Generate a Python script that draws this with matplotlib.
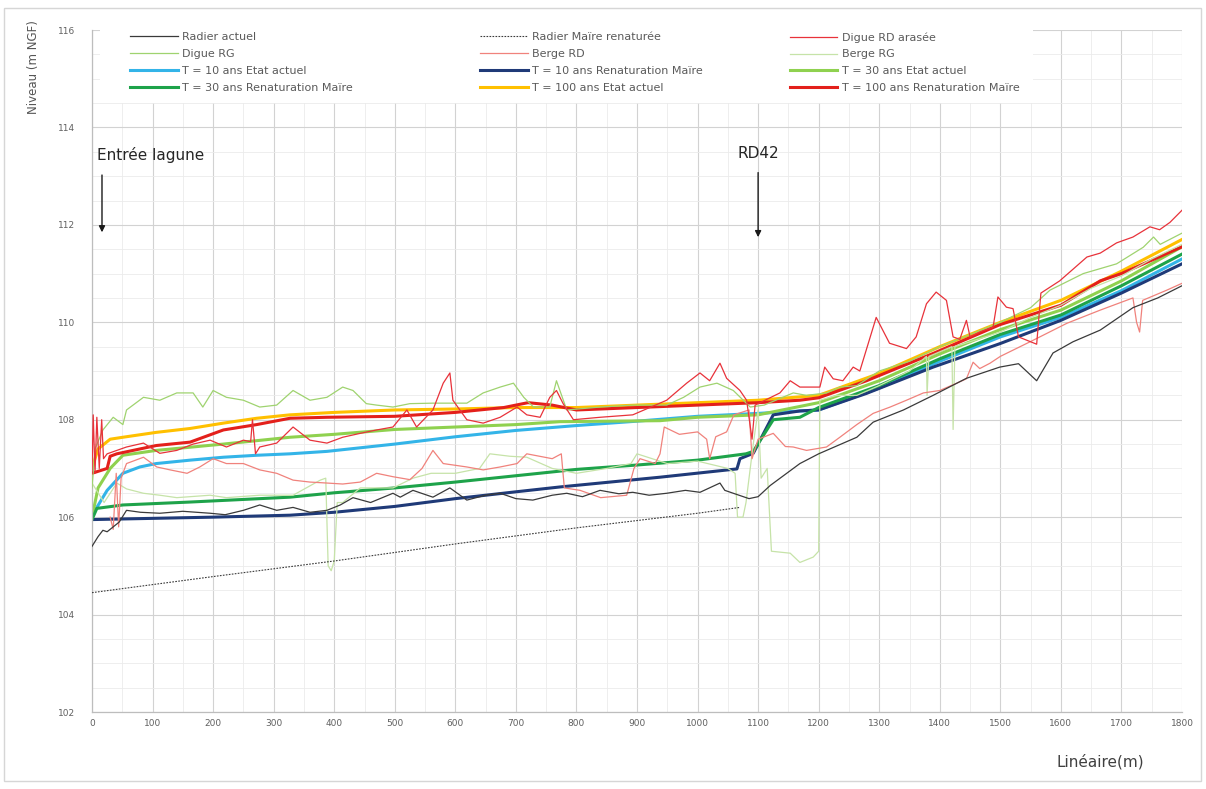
import matplotlib
matplotlib.use("Agg")
import matplotlib.pyplot as plt
from matplotlib.ticker import MultipleLocator
from matplotlib.patches import Rectangle
from matplotlib.legend import Legend

# ---------------- data ----------------
radier_actuel_x = [0, 10, 18, 25, 35, 45, 57, 80, 112, 150, 195, 220, 250, 277, 305, 332, 360, 388, 410, 431,
                   460, 497, 509, 530, 563, 591, 619, 650, 674, 700, 728, 760, 784, 810, 839, 870, 893, 920, 949, 980,
                   1004, 1037, 1045, 1059, 1085, 1100, 1120, 1169, 1200, 1263, 1290, 1340, 1389, 1444, 1499, 1530, 1560, 1587, 1620, 1665,
                   1719, 1760, 1800]
radier_actuel_y = [105.4, 105.6, 105.73, 105.7, 105.8, 105.9, 106.14, 106.1, 106.08, 106.12, 106.08, 106.05, 106.14, 106.25, 106.14, 106.2, 106.1, 106.14, 106.25, 106.4,
                   106.3, 106.49, 106.41, 106.55, 106.41, 106.6, 106.35, 106.45, 106.49, 106.38, 106.35, 106.45, 106.49, 106.42, 106.55, 106.48, 106.51, 106.45, 106.49, 106.55,
                   106.51, 106.7, 106.55, 106.49, 106.38, 106.42, 106.65, 107.1, 107.3, 107.64, 107.95, 108.2, 108.5, 108.85, 109.08, 109.15, 108.8, 109.37, 109.6, 109.84,
                   110.3, 110.5, 110.75]

radier_renat_x = [0, 200, 400, 600, 800, 1000, 1070]
radier_renat_y = [104.45, 104.78, 105.1, 105.45, 105.78, 106.08, 106.2]

digue_rd_x = [0, 2, 5, 8, 12, 16, 19, 25, 41, 57, 85, 112, 140, 167, 195, 222, 250, 262, 265, 270,
              277, 305, 332, 360, 388, 414, 443, 470, 497, 520, 536, 563, 580, 591, 596, 619, 646, 674, 702, 718,
              740, 756, 767, 778, 795, 839, 893, 949, 982, 1004, 1020, 1037, 1048, 1070, 1081, 1090, 1095, 1136, 1153, 1169,
              1202, 1210, 1224, 1240, 1257, 1268, 1295, 1317, 1345, 1361, 1378, 1394, 1411, 1422, 1433, 1444, 1450, 1466, 1488, 1496,
              1510, 1521, 1530, 1560, 1567, 1598, 1621, 1643, 1665, 1692, 1719, 1747, 1763, 1780, 1800]
digue_rd_y = [106.9, 108.1, 106.9, 108.05, 107.0, 108.0, 107.2, 107.3, 107.37, 107.44, 107.52, 107.31, 107.37, 107.5, 107.58, 107.44, 107.58, 107.55, 108.0, 107.3,
              107.44, 107.52, 107.85, 107.58, 107.52, 107.64, 107.72, 107.79, 107.85, 108.2, 107.85, 108.2, 108.75, 108.96, 108.4, 108.0, 107.93, 108.05, 108.26, 108.1,
              108.05, 108.46, 108.6, 108.33, 108.0, 108.05, 108.1, 108.4, 108.75, 108.96, 108.8, 109.16, 108.85, 108.6, 108.4, 107.6, 108.3, 108.55, 108.8, 108.67,
              108.67, 109.08, 108.84, 108.8, 109.08, 109.0, 110.1, 109.57, 109.46, 109.7, 110.38, 110.62, 110.45, 109.7, 109.65, 110.04, 109.7, 109.8, 109.9, 110.52,
              110.31, 110.28, 109.7, 109.55, 110.6, 110.85, 111.1, 111.34, 111.42, 111.63, 111.75, 111.96, 111.9, 112.05, 112.3]

digue_rg_x = [0, 5, 18, 35, 51, 57, 85, 112, 140, 167, 183, 200, 222, 250, 277, 305, 332, 360, 388, 414,
              431, 453, 470, 497, 525, 563, 619, 646, 674, 696, 713, 729, 756, 767, 784, 839, 893, 949, 977, 1004,
              1032, 1059, 1087, 1110, 1158, 1180, 1213, 1235, 1263, 1300, 1350, 1400, 1450, 1500, 1550, 1582, 1637, 1692, 1736, 1753,
              1764, 1800]
digue_rg_y = [106.6, 107.4, 107.79, 108.05, 107.9, 108.2, 108.46, 108.4, 108.55, 108.55, 108.26, 108.6, 108.46, 108.4, 108.26, 108.3, 108.6, 108.4, 108.46, 108.67,
              108.6, 108.33, 108.3, 108.26, 108.33, 108.34, 108.34, 108.55, 108.67, 108.75, 108.46, 108.26, 108.26, 108.8, 108.2, 108.26, 108.3, 108.3, 108.46, 108.67,
              108.75, 108.6, 108.26, 108.3, 108.55, 108.5, 108.55, 108.67, 108.7, 109.0, 109.2, 109.5, 109.75, 110.0, 110.3, 110.66, 111.0, 111.2, 111.54, 111.75,
              111.6, 111.83]

berge_rd_x = [30, 35, 40, 44, 48, 57, 85, 107, 129, 157, 178, 200, 222, 250, 277, 305, 332, 360, 388, 414,
              443, 470, 497, 525, 545, 563, 580, 619, 646, 674, 702, 718, 760, 775, 780, 806, 840, 883, 895, 905,
              930, 938, 945, 970, 1000, 1015, 1020, 1030, 1048, 1060, 1085, 1090, 1100, 1125, 1145, 1158, 1180, 1213, 1235, 1263,
              1290, 1318, 1345, 1373, 1400, 1428, 1444, 1455, 1466, 1483, 1500, 1554, 1610, 1665, 1719, 1725, 1730, 1735, 1775, 1800]
berge_rd_y = [106.0, 105.75, 106.9, 105.8, 106.8, 107.1, 107.23, 107.03, 106.97, 106.9, 107.03, 107.2, 107.1, 107.1, 106.97, 106.9, 106.76, 106.72, 106.7, 106.68,
              106.72, 106.9, 106.83, 106.77, 107.0, 107.37, 107.1, 107.03, 106.97, 107.03, 107.1, 107.3, 107.2, 107.3, 106.6, 106.55, 106.4, 106.45, 107.0, 107.2,
              107.1, 107.3, 107.85, 107.7, 107.75, 107.6, 107.2, 107.65, 107.75, 108.1, 108.2, 107.2, 107.6, 107.72, 107.45, 107.44, 107.37, 107.44, 107.64, 107.9,
              108.13, 108.26, 108.4, 108.55, 108.6, 108.75, 108.84, 109.18, 109.05, 109.16, 109.3, 109.63, 109.98, 110.25, 110.5, 110.0, 109.8, 110.45, 110.66, 110.8]

berge_rg_x = [0, 10, 20, 41, 57, 85, 112, 140, 195, 222, 277, 332, 377, 386, 390, 395, 400, 405, 414, 443,
              497, 530, 560, 600, 640, 657, 690, 718, 760, 800, 850, 890, 900, 950, 1000, 1050, 1062, 1066, 1075, 1080,
              1092, 1100, 1105, 1115, 1122, 1153, 1169, 1191, 1200, 1202, 1230, 1263, 1300, 1350, 1378, 1379, 1382, 1420, 1422, 1425,
              1450, 1500, 1550, 1600, 1650, 1700, 1750, 1800]
berge_rg_y = [106.7, 106.5, 106.3, 106.7, 106.58, 106.49, 106.45, 106.4, 106.45, 106.4, 106.45, 106.45, 106.76, 106.8, 105.0, 104.9, 105.1, 106.3, 106.3, 106.6,
              106.6, 106.8, 106.9, 106.9, 107.0, 107.3, 107.25, 107.23, 107.0, 106.9, 107.0, 107.1, 107.3, 107.1, 107.15, 107.0, 106.9, 106.0, 106.0, 106.3,
              107.5, 108.2, 106.8, 107.0, 105.3, 105.26, 105.07, 105.18, 105.3, 108.4, 108.5, 108.5, 108.7, 109.0, 109.3, 108.5, 109.3, 109.5, 107.8, 109.5,
              109.6, 109.8, 110.1, 110.35, 110.7, 110.95, 111.3, 111.6]

t10_etat_x = [0, 8, 25, 51, 79, 106, 162, 217, 272, 327, 388, 500, 600, 700, 800, 900, 1000, 1100, 1200, 1300, 1400, 1500, 1600, 1700, 1800]
t10_etat_y = [106.0, 106.2, 106.55, 106.9, 107.03, 107.1, 107.17, 107.23, 107.27, 107.3, 107.35, 107.5, 107.65, 107.78, 107.88, 107.97, 108.07, 108.13, 108.2, 108.65, 109.2, 109.7, 110.1, 110.65, 111.3]

t10_renat_x = [0, 200, 327, 400, 500, 600, 700, 773, 938, 1065, 1070, 1092, 1125, 1169, 1200, 1279, 1389, 1499, 1600, 1700, 1800]
t10_renat_y = [105.95, 106.0, 106.04, 106.1, 106.22, 106.38, 106.52, 106.62, 106.82, 106.99, 107.2, 107.31, 108.1, 108.18, 108.2, 108.54, 109.08, 109.56, 110.04, 110.6, 111.2]

t30_etat_x = [0, 10, 30, 51, 106, 217, 327, 400, 500, 600, 700, 773, 938, 1000, 1100, 1200, 1300, 1400, 1500, 1600, 1700, 1800]
t30_etat_y = [106.0, 106.6, 107.0, 107.27, 107.37, 107.5, 107.64, 107.7, 107.8, 107.85, 107.9, 107.96, 107.98, 108.05, 108.1, 108.35, 108.8, 109.35, 109.85, 110.25, 110.85, 111.55]

t30_renat_x = [0, 8, 51, 162, 327, 400, 500, 600, 700, 800, 900, 1000, 1080, 1092, 1125, 1169, 1200, 1300, 1400, 1500, 1600, 1700, 1800]
t30_renat_y = [105.95, 106.18, 106.25, 106.31, 106.41, 106.5, 106.6, 106.72, 106.85, 106.98, 107.07, 107.17, 107.3, 107.35, 108.0, 108.05, 108.25, 108.7, 109.25, 109.75, 110.15, 110.75, 111.4]

t100_etat_x = [0, 10, 30, 51, 106, 162, 217, 272, 327, 400, 500, 600, 700, 800, 900, 1000, 1100, 1200, 1300, 1400, 1500, 1600, 1700, 1800]
t100_etat_y = [107.0, 107.4, 107.6, 107.64, 107.74, 107.82, 107.93, 108.03, 108.1, 108.15, 108.2, 108.22, 108.25, 108.25, 108.3, 108.35, 108.4, 108.5, 108.95, 109.5, 110.0, 110.45, 111.05, 111.7]

t100_renat_x = [0, 25, 30, 41, 106, 162, 217, 272, 327, 388, 500, 600, 680, 720, 760, 800, 900, 1000, 1100, 1169, 1200, 1279, 1389, 1499, 1600, 1665, 1700, 1800]
t100_renat_y = [106.9, 107.0, 107.25, 107.3, 107.47, 107.54, 107.79, 107.9, 108.03, 108.05, 108.07, 108.15, 108.25, 108.35, 108.3, 108.2, 108.25, 108.3, 108.35, 108.4, 108.45, 108.8, 109.36, 109.95, 110.35, 110.85, 111.0, 111.55]

labels = ["Radier actuel", "Radier Maïre renaturée", "Digue RD arasée",
          "Digue RG", "Berge RD", "Berge RG",
          "T = 10 ans Etat actuel", "T = 10 ans Renaturation Maïre", "T = 30 ans Etat actuel",
          "T = 30 ans Renaturation Maïre", "T = 100 ans Etat actuel", "T = 100 ans Renaturation Maïre"]

x_ticks = list(range(0, 1801, 100))
y_ticks = list(range(102, 117, 2))

# ---------------- styles ----------------
series = [
    (radier_actuel_x, radier_actuel_y, "#3a3a3a", 0.9, "-", 3.2),
    (radier_renat_x, radier_renat_y, "#3a3a3a", 0.8, (0, (1.5, 1.2)), 3.2),
    (digue_rd_x, digue_rd_y, "#e8323a", 0.9, "-", 3.1),
    (digue_rg_x, digue_rg_y, "#9fd36f", 0.9, "-", 3.0),
    (berge_rd_x, berge_rd_y, "#f0827c", 0.9, "-", 3.05),
    (berge_rg_x, berge_rg_y, "#c6e3a8", 0.9, "-", 2.9),
    (t10_etat_x, t10_etat_y, "#33b4e8", 2.2, "-", 2.1),
    (t10_renat_x, t10_renat_y, "#1f3a78", 2.2, "-", 2.2),
    (t30_etat_x, t30_etat_y, "#8fd14f", 2.2, "-", 2.3),
    (t30_renat_x, t30_renat_y, "#1ea34a", 2.2, "-", 2.4),
    (t100_etat_x, t100_etat_y, "#ffc000", 2.2, "-", 2.5),
    (t100_renat_x, t100_renat_y, "#e3201b", 2.2, "-", 2.6),
]

fig = plt.figure(figsize=(12.06, 7.89), dpi=100)
ax = fig.add_axes([92 / 1206, 1 - 712 / 789, 1090 / 1206, 682 / 789])

handles = []
for (xs, ys, col, lw, ls, z), lab in zip(series, labels):
    h, = ax.plot(xs, ys, color=col, lw=lw, ls=ls, zorder=z, label=lab,
                 solid_joinstyle="round")
    handles.append(h)

ax.set_xlim(0, 1800)
ax.set_ylim(102, 116)
ax.set_xticks(x_ticks)
ax.set_yticks(y_ticks)
ax.xaxis.set_minor_locator(MultipleLocator(50))
ax.yaxis.set_minor_locator(MultipleLocator(0.5))
ax.grid(which="major", color="#d2d2d2", lw=0.8)
ax.grid(which="minor", color="#ebebeb", lw=0.6)
ax.set_axisbelow(True)
for s in ("top", "right"):
    ax.spines[s].set_visible(False)
for s in ("left", "bottom"):
    ax.spines[s].set_color("#bdbdbd")
    ax.spines[s].set_linewidth(0.9)
ax.tick_params(which="both", length=0)
ax.tick_params(axis="x", labelsize=6.5, labelcolor="#606060", pad=5)
ax.tick_params(axis="y", labelsize=6.5, labelcolor="#606060", pad=12)

# white band behind the legend
ax.add_patch(Rectangle((8 / 1090, 0.893), (1033 - 100) / 1090, 0.107,
                       transform=ax.transAxes, facecolor="white",
                       edgecolor="none", zorder=1.5))

col_idx = [[0, 3, 6, 9], [1, 4, 7, 10], [2, 5, 8, 11]]
col_x = [0.035, 0.356, 0.640]
for idx, cx in zip(col_idx, col_x):
    leg = Legend(ax, [handles[i] for i in idx], [labels[i] for i in idx],
                 loc="upper left", bbox_to_anchor=(cx, 0.997), frameon=False,
                 fontsize=8, handlelength=4.3, handletextpad=0.4,
                 labelspacing=0.62, borderpad=0, borderaxespad=0,
                 labelcolor="#5a5a5a")
    leg.set_zorder(5)
    ax.add_artist(leg)

# annotations
ax.text(8, 113.43, "Entrée lagune", fontsize=11, color="#262626",
        ha="left", va="center", zorder=6)
ax.annotate("", xy=(16.5, 111.79), xytext=(16.5, 113.08),
            arrowprops=dict(arrowstyle="-|>", color="#1a1a1a", lw=1.0,
                            mutation_scale=9), zorder=6)
ax.text(1100, 113.47, "RD42", fontsize=11, color="#262626",
        ha="center", va="center", zorder=6)
ax.annotate("", xy=(1100, 111.69), xytext=(1100, 113.13),
            arrowprops=dict(arrowstyle="-|>", color="#1a1a1a", lw=1.0,
                            mutation_scale=9), zorder=6)

fig.text(33 / 1206, 1 - 20 / 789, "Niveau (m NGF)", rotation=90, fontsize=8.5,
         color="#555555", ha="center", va="top")
fig.text(1100 / 1206, 1 - 762 / 789, "Linéaire(m)", fontsize=11,
         color="#404040", ha="center", va="center")

fig.patches.append(Rectangle((4 / 1206, 1 - 781 / 789), 1197 / 1206, 773 / 789,
                             transform=fig.transFigure, facecolor="none",
                             edgecolor="#d6d6d6", lw=1.0))

fig.savefig("out.png", dpi=100)
